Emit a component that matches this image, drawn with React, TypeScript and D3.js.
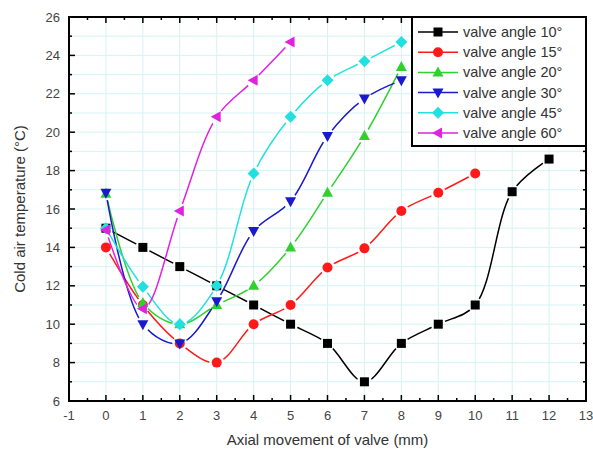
import React from "react";
import * as d3 from "d3";

const xs10 = [0, 1, 2, 3, 4, 5, 6, 7, 8, 9, 10, 11, 12];
const ys10 = [15, 14, 13, 12, 11, 10, 9, 7, 9, 10, 11, 16.9, 18.6];
const xs15 = [0, 1, 2, 3, 4, 5, 6, 7, 8, 9, 10];
const ys15 = [14, 11, 9, 8, 10, 11, 12.95, 13.95, 15.9, 16.85, 17.85];
const xs20 = [0, 1, 2, 3, 4, 5, 6, 7, 8];
const ys20 = [16.8, 11.1, 10, 11, 12, 14, 16.85, 19.8, 23.4];
const xs30 = [0, 1, 2, 3, 4, 5, 6, 7, 8];
const ys30 = [16.85, 10, 9, 11.2, 14.85, 16.4, 19.8, 21.75, 22.7];
const xs45 = [0, 1, 2, 3, 4, 5, 6, 7, 8];
const ys45 = [15, 11.95, 10, 12, 17.85, 20.8, 22.7, 23.7, 24.7];
const xs60 = [0, 1, 2, 3, 4, 5];
const ys60 = [14.9, 10.8, 15.9, 20.8, 22.7, 24.7];

const seriesNames = ["valve angle 10°", "valve angle 15°", "valve angle 20°", "valve angle 30°", "valve angle 45°", "valve angle 60°"];
const seriesColors = ["#000000", "#ff1a1a", "#2ed12e", "#1a1acc", "#22e0e0", "#e022e0"];
const seriesShapes = ["square", "circle", "up", "down", "diamond", "left"];
const seriesX = [xs10, xs15, xs20, xs30, xs45, xs60];
const seriesY = [ys10, ys15, ys20, ys30, ys45, ys60];

const xTicks = [-1, 0, 1, 2, 3, 4, 5, 6, 7, 8, 9, 10, 11, 12, 13];
const yTicks = [6, 8, 10, 12, 14, 16, 18, 20, 22, 24, 26];

const W = 593, H = 455;
const L = 69, R = 586, T = 17, B = 401;

function Marker({ shape, x, y, color }: { shape: string; x: number; y: number; color: string }) {
  const s = 5;
  if (shape === "square") return <rect x={x - 4.5} y={y - 4.5} width={9} height={9} fill={color} />;
  if (shape === "circle") return <circle cx={x} cy={y} r={5} fill={color} />;
  let pts: number[][] = [];
  if (shape === "up") pts = [[x, y - s - 1], [x - s - 0.5, y + s - 1], [x + s + 0.5, y + s - 1]];
  if (shape === "down") pts = [[x, y + s + 1], [x - s - 0.5, y - s + 1], [x + s + 0.5, y - s + 1]];
  if (shape === "diamond") pts = [[x, y - s - 1], [x + s + 1, y], [x, y + s + 1], [x - s - 1, y]];
  if (shape === "left") pts = [[x - s - 1, y], [x + s - 1, y - s - 0.5], [x + s - 1, y + s + 0.5]];
  return <polygon points={pts.map((p) => p.join(",")).join(" ")} fill={color} />;
}

export default function App() {
  const x = d3.scaleLinear().domain([-1, 13]).range([L, R]);
  const y = d3.scaleLinear().domain([6, 26]).range([B, T]);
  const line = d3
    .line<number[]>()
    .x((d) => x(d[0]))
    .y((d) => y(d[1]))
    .curve(d3.curveCatmullRom.alpha(0.5));

  const xMinor = d3.range(-1, 13.01, 0.5);
  const yMinor = d3.range(6, 26.01, 1);
  const gridX = d3.range(-1, 13.01, 1);
  const gridY = d3.range(6, 26.01, 1);

  const legX = 412, legY = 17, legW = R - legX, legH = 129;

  return (
    <svg width={W} height={H} style={{ position: "absolute", left: 0, top: 0, background: "#fff" }} fontFamily="Liberation Sans, Arial, sans-serif">
      <defs>
        {seriesX.map((xsArr, i) => (
          <mask id={`m${i}`} key={i} maskUnits="userSpaceOnUse" x={0} y={0} width={W} height={H}>
            <rect x={0} y={0} width={W} height={H} fill="#fff" />
            {xsArr.map((v, j) => (
              <circle key={j} cx={x(v)} cy={y(seriesY[i][j])} r={7.5} fill="#000" />
            ))}
          </mask>
        ))}
      </defs>
      {gridX.map((v) => (
        <line key={"gx" + v} x1={x(v)} x2={x(v)} y1={T} y2={B} stroke="#d6f3f3" strokeWidth={1} />
      ))}
      {gridY.map((v) => (
        <line key={"gy" + v} x1={L} x2={R} y1={y(v)} y2={y(v)} stroke="#d6f3f3" strokeWidth={1} />
      ))}
      {seriesX.map((xsArr, i) => (
        <path
          key={"l" + i}
          d={line(xsArr.map((v, j) => [v, seriesY[i][j]])) || ""}
          fill="none"
          stroke={seriesColors[i]}
          strokeWidth={1.5}
          mask={`url(#m${i})`}
        />
      ))}
      {seriesX.map((xsArr, i) =>
        xsArr.map((v, j) => (
          <Marker key={`mk${i}-${j}`} shape={seriesShapes[i]} x={x(v)} y={y(seriesY[i][j])} color={seriesColors[i]} />
        ))
      )}
      {xMinor.map((v) => {
        const major = Math.abs(v - Math.round(v)) < 1e-6;
        const len = major ? 6 : 3;
        return (
          <g key={"tx" + v}>
            <line x1={x(v)} x2={x(v)} y1={B} y2={B - len} stroke="#000" strokeWidth={1.5} />
            <line x1={x(v)} x2={x(v)} y1={T} y2={T + len} stroke="#000" strokeWidth={1.5} />
          </g>
        );
      })}
      {yMinor.map((v) => {
        const major = v % 2 === 0;
        const len = major ? 6 : 3;
        return (
          <g key={"ty" + v}>
            <line x1={L} x2={L + len} y1={y(v)} y2={y(v)} stroke="#000" strokeWidth={1.5} />
            <line x1={R} x2={R - len} y1={y(v)} y2={y(v)} stroke="#000" strokeWidth={1.5} />
          </g>
        );
      })}
      <rect x={L} y={T} width={R - L} height={B - T} fill="none" stroke="#000" strokeWidth={2} />
      {xTicks.map((v) => (
        <text key={"xl" + v} x={x(v)} y={B + 19} textAnchor="middle" fontSize={13} fill="#444">
          {v}
        </text>
      ))}
      {yTicks.map((v) => (
        <text key={"yl" + v} x={L - 9} y={y(v) + 4.5} textAnchor="end" fontSize={13} fill="#444">
          {v}
        </text>
      ))}
      <text x={(L + R) / 2} y={445} textAnchor="middle" fontSize={15} fill="#333">
        Axial movement of valve (mm)
      </text>
      <text transform={`translate(25, ${(T + B) / 2}) rotate(-90)`} textAnchor="middle" fontSize={15} fill="#333">
        Cold air temperature (°C)
      </text>
      <rect x={legX} y={legY} width={legW} height={legH} fill="#fff" stroke="#000" strokeWidth={2} />
      {seriesNames.map((n, i) => {
        const cy = 32 + i * 20.2;
        return (
          <g key={"lg" + i}>
            <line x1={418} x2={458} y1={cy} y2={cy} stroke={seriesColors[i]} strokeWidth={1.5} />
            <Marker shape={seriesShapes[i]} x={438} y={cy} color={seriesColors[i]} />
            <text x={463} y={cy + 5} fontSize={14.5} fill="#333">
              {n}
            </text>
          </g>
        );
      })}
    </svg>
  );
}
